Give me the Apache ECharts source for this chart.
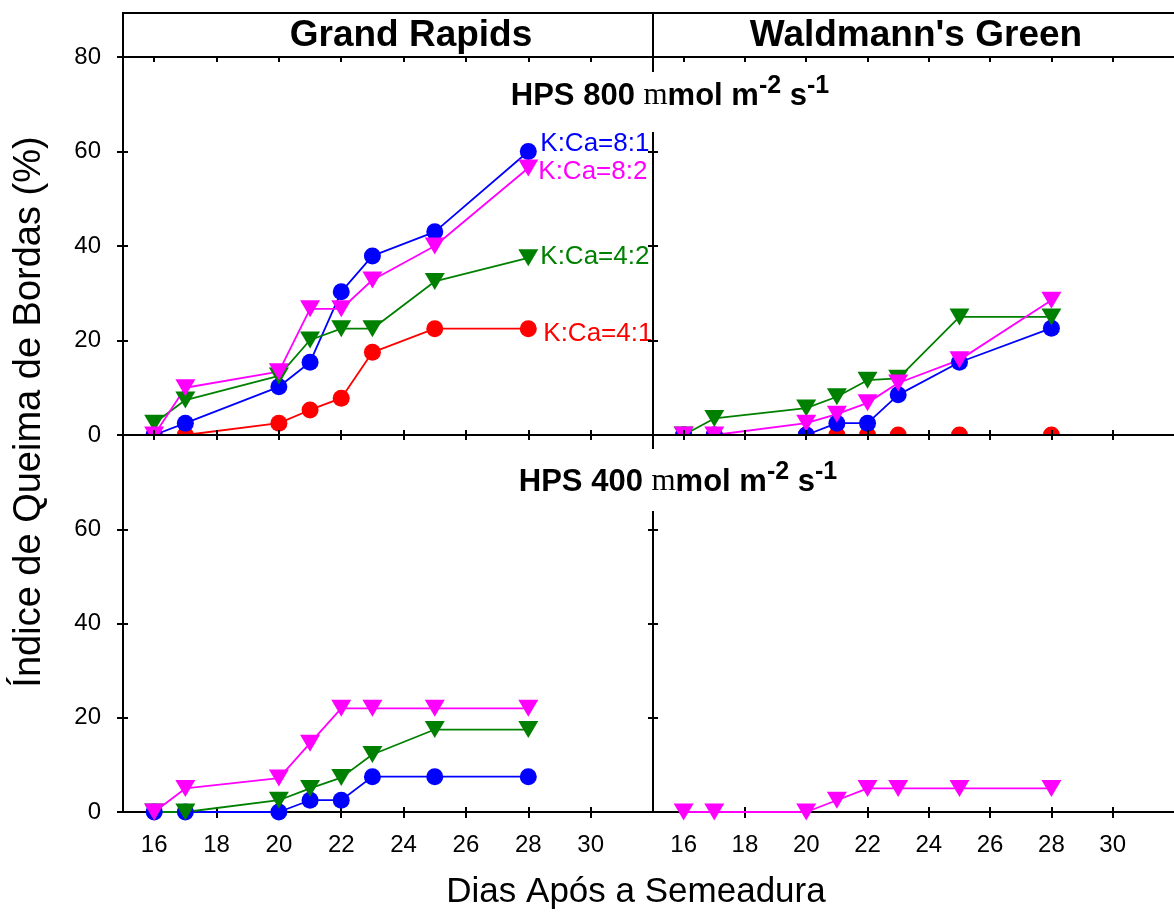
<!DOCTYPE html>
<html><head><meta charset="utf-8">
<script src="https://cdn.jsdelivr.net/npm/echarts@6/dist/echarts.min.js"></script>
<style>html,body{margin:0;padding:0;background:#fff}#c{width:1174px;height:916px}</style>
</head><body><div id="c"></div>
<script>
// ---- data ----
const days = [16, 17, 20, 21, 22, 23, 25, 28];
const xTickValues = [16, 18, 20, 22, 24, 26, 28, 30];
const cultivars = ['Grand Rapids', "Waldmann's Green"];
const treatments = ['K:Ca=8:1', 'K:Ca=8:2', 'K:Ca=4:2', 'K:Ca=4:1'];
// Grand Rapids, HPS 800
const gr800_81 = [0, 2.5, 10.2, 15.4, 30.3, 37.9, 43.0, 60.0];
const gr800_82 = [0, 10.0, 13.4, 26.7, 26.7, 32.8, 40.0, 56.5];
const gr800_42 = [2.5, 7.4, 12.5, 20.1, 22.5, 22.5, 32.5, 37.5];
const gr800_41 = [0, 0, 2.5, 5.3, 7.8, 17.5, 22.5, 22.5];
// Waldmann's Green, HPS 800
const wg800_81 = [0, 0, 0, 2.5, 2.5, 8.5, 15.4, 22.6];
const wg800_82 = [0, 0, 2.5, 4.4, 6.8, 11.0, 15.9, 28.5];
const wg800_42 = [0, 3.5, 5.7, 8.1, 11.6, 12.0, 25.0, 25.0];
const wg800_41 = [0, 0, 0, 0, 0, 0, 0, 0];
// Grand Rapids, HPS 400
const gr400_81 = [0, 0, 0, 2.5, 2.5, 7.5, 7.5, 7.5];
const gr400_82 = [0, 5.0, 7.2, 14.6, 22.0, 22.0, 22.0, 22.0];
const gr400_42 = [0, 0, 2.5, 5.0, 7.3, 12.2, 17.5, 17.5];
// Waldmann's Green, HPS 400
const wg400_82 = [0, 0, 0, 2.5, 5.0, 5.0, 5.0, 5.0];

// ---- styling ----
const FF = 'Liberation Sans, Arial, sans-serif';
const colors = {'K:Ca=8:1': '#0000ff', 'K:Ca=8:2': '#ff00ff', 'K:Ca=4:2': '#008000', 'K:Ca=4:1': '#ff0000'};
const isTri = {'K:Ca=8:1': false, 'K:Ca=8:2': true, 'K:Ca=4:2': true, 'K:Ca=4:1': false};
const labelOffsets = {'K:Ca=8:1': [0, -8], 'K:Ca=8:2': [-2, 4], 'K:Ca=4:2': [0, -1], 'K:Ca=4:1': [3, 5]};

function xaxis(gi, pos, o) {
  return {type: 'value', gridIndex: gi, position: pos, min: 15, max: 32, z: 6,
    axisLine: {show: o.line, onZero: false, lineStyle: {color: '#000', width: 2}},
    axisTick: {show: true, inside: o.inside, length: o.len, customValues: xTickValues, lineStyle: {color: '#000', width: 2}},
    axisLabel: {show: !!o.labels, customValues: xTickValues, fontSize: 24, fontFamily: FF, color: '#000', margin: 21},
    splitLine: {show: false}};
}
function yaxis(gi, pos, o) {
  return {type: 'value', gridIndex: gi, position: pos, min: 0, max: 80, interval: 20, z: 6,
    axisLine: {show: o.line, onZero: false, lineStyle: {color: '#000', width: 2}},
    axisTick: {show: true, inside: o.inside, length: o.len, lineStyle: {color: '#000', width: 2}},
    axisLabel: {show: !!o.labels, showMaxLabel: !o.hideMax, fontSize: 24, fontFamily: FF, color: '#000', margin: 22},
    splitLine: {show: false}};
}

const xAxes = [
  xaxis(0, 'bottom', {line: true, inside: true, len: 5}),   // 0 TL bottom
  xaxis(0, 'top', {line: true, inside: true, len: 5}),      // 1 TL top
  xaxis(1, 'bottom', {line: true, inside: true, len: 5}),   // 2 TR bottom
  xaxis(1, 'top', {line: true, inside: true, len: 5}),      // 3 TR top
  xaxis(2, 'bottom', {line: true, inside: false, len: 6, labels: true}), // 4 BL bottom
  xaxis(2, 'bottom', {line: false, inside: true, len: 5}),  // 5 BL bottom inner ticks
  xaxis(2, 'top', {line: false, inside: true, len: 5}),     // 6 BL top
  xaxis(3, 'bottom', {line: true, inside: false, len: 6, labels: true}), // 7 BR bottom
  xaxis(3, 'bottom', {line: false, inside: true, len: 5}),  // 8
  xaxis(3, 'top', {line: false, inside: true, len: 5})      // 9
];
const yAxes = [
  yaxis(0, 'left', {line: true, inside: false, len: 6, labels: true}),  // 0 TL left
  yaxis(0, 'left', {line: false, inside: true, len: 5}),                // 1
  yaxis(0, 'right', {line: true, inside: true, len: 5}),                // 2
  yaxis(1, 'left', {line: true, inside: true, len: 5}),                 // 3 TR left
  yaxis(2, 'left', {line: true, inside: false, len: 6, labels: true, hideMax: true}), // 4 BL left
  yaxis(2, 'left', {line: false, inside: true, len: 5}),                // 5
  yaxis(2, 'right', {line: true, inside: true, len: 5}),                // 6
  yaxis(3, 'left', {line: true, inside: true, len: 5})                  // 7 BR left
];

function mk(name, vals, xi, yi, z, withLabel) {
  const c = colors[name];
  const s = {
    type: 'line', name: name, xAxisIndex: xi, yAxisIndex: yi, z: z,
    data: days.map((d, i) => [d, vals[i]]),
    symbol: isTri[name] ? 'triangle' : 'circle',
    symbolRotate: isTri[name] ? 180 : 0,
    symbolSize: isTri[name] ? [20, 17] : 17,
    showAllSymbol: true,
    lineStyle: {color: c, width: 1.8},
    itemStyle: {color: c},
    emphasis: {disabled: true},
    animation: false
  };
  if (withLabel) {
    s.endLabel = {show: true, formatter: '{a}', color: c, fontSize: 26, fontFamily: FF,
      distance: 12, offset: labelOffsets[name]};
  }
  return s;
}

const series = [
  mk('K:Ca=4:1', gr800_41, 0, 0, 2, true),
  mk('K:Ca=8:1', gr800_81, 0, 0, 2, true),
  mk('K:Ca=4:2', gr800_42, 0, 0, 2, true),
  mk('K:Ca=8:2', gr800_82, 0, 0, 2, true),
  mk('K:Ca=4:1', wg800_41, 2, 3, 2, false),
  mk('K:Ca=8:1', wg800_81, 2, 3, 2, false),
  mk('K:Ca=4:2', wg800_42, 2, 3, 2, false),
  mk('K:Ca=8:2', wg800_82, 2, 3, 2, false),
  mk('K:Ca=8:1', gr400_81, 4, 4, 7, false),
  mk('K:Ca=4:2', gr400_42, 4, 4, 7, false),
  mk('K:Ca=8:2', gr400_82, 4, 4, 7, false),
  mk('K:Ca=8:2', wg400_82, 7, 7, 7, false)
];

function hpsText(level) {
  return '{b|HPS ' + level + ' }{mu|m}{b|mol m}{sup|-2}{b| s}{sup|-1}';
}
const hpsRich = {
  b: {fontSize: 31, fontWeight: 'bold', fontFamily: FF, lineHeight: 44, fill: '#000'},
  mu: {fontSize: 31, fontFamily: 'Liberation Serif, serif', lineHeight: 44, fill: '#000'},
  sup: {fontSize: 25, fontWeight: 'bold', fontFamily: FF, lineHeight: 18, verticalAlign: 'top', fill: '#000'}
};

const graphic = [
  {type: 'polyline', z: 20, shape: {points: [[123, 57], [123, 13], [1176, 13]]}, style: {stroke: '#000', lineWidth: 2, fill: null}},
  {type: 'line', z: 20, shape: {x1: 653, y1: 13, x2: 653, y2: 57}, style: {stroke: '#000', lineWidth: 2}},
  {type: 'text', z: 20, x: 411, y: 36, style: {text: cultivars[0], fontSize: 37, fontWeight: 'bold', fontFamily: FF, fill: '#000', align: 'center', verticalAlign: 'middle'}},
  {type: 'text', z: 20, x: 916, y: 36, style: {text: cultivars[1], fontSize: 37, fontWeight: 'bold', fontFamily: FF, fill: '#000', align: 'center', verticalAlign: 'middle'}},
  {type: 'text', z: 20, x: 670, y: 72, style: {text: hpsText(800), rich: hpsRich, align: 'center', verticalAlign: 'top', backgroundColor: '#fff', padding: [2, 6, 14, 6]}},
  {type: 'text', z: 20, x: 678, y: 449, style: {text: hpsText(400), rich: hpsRich, align: 'center', verticalAlign: 'top', backgroundColor: '#fff', padding: [11, 6, 7, 6]}},
  {type: 'text', z: 20, x: 30, y: 412, rotation: Math.PI / 2, style: {text: 'Índice de Queima de Bordas (%)', fontSize: 38, fontFamily: FF, fill: '#000', align: 'center', verticalAlign: 'middle'}},
  {type: 'text', z: 20, x: 636, y: 892, style: {text: 'Dias Após a Semeadura', fontSize: 35, fontFamily: FF, fill: '#000', align: 'center', verticalAlign: 'middle'}}
];

const chart = echarts.init(document.getElementById('c'), null, {renderer: 'canvas'});
chart.setOption({
  animation: false,
  backgroundColor: '#fff',
  grid: [
    {left: 123, top: 57, width: 530, height: 378},
    {left: 653, top: 57, width: 523, height: 378},
    {left: 123, top: 435, width: 530, height: 377, show: true, backgroundColor: '#fff', borderWidth: 0, z: 3},
    {left: 653, top: 435, width: 523, height: 377, show: true, backgroundColor: '#fff', borderWidth: 0, z: 3}
  ],
  xAxis: xAxes,
  yAxis: yAxes,
  series: series,
  graphic: graphic
});
</script></body></html>
